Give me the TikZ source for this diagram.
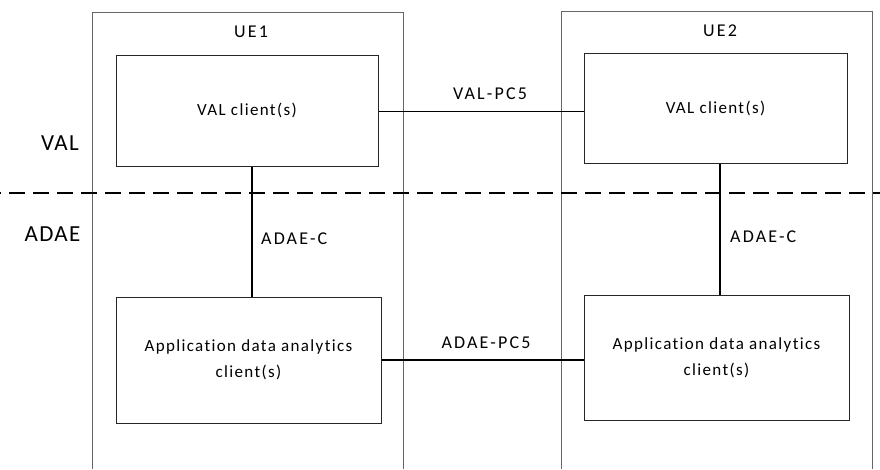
\documentclass[tikz,border=0pt]{standalone}
\usepackage{fontspec}
\setmainfont{Carlito}
\newfontfamily\boxfont[LetterSpace=8,Ligatures=NoCommon]{Carlito}
\newfontfamily\conffont[LetterSpace=12,Ligatures=NoCommon]{Carlito}
\newfontfamily\bigfont[LetterSpace=6,Ligatures=NoCommon]{Carlito}
\begin{document}
\begin{tikzpicture}[x=1pt,y=-1pt,
  frame/.style={draw=black!60,line width=1pt},
  box/.style={draw=black!85,line width=1pt,inner sep=0pt,
    font=\boxfont\fontsize{17}{26}\selectfont,align=center},
  conlbl/.style={font=\conffont\fontsize{18}{22}\selectfont,inner sep=0pt},
  big/.style={font=\bigfont\fontsize{23}{27}\selectfont,inner sep=0pt},
  thin/.style={line width=1pt},
  thick2/.style={line width=2pt}]
\useasboundingbox (0,0) rectangle (880,469);
% outer UE frames (open at bottom)
\draw[frame] (92,469) -- (92,12) -- (403,12) -- (403,469);
\draw[frame] (561,469) -- (561,11) -- (872,11) -- (872,469);
\node[conlbl] (ue1) at (251,32) {UE1};
\node[conlbl] (ue2) at (720,31) {UE2};
% boxes
\node[box,minimum width=262pt,minimum height=111pt] (val1) at (247,110.5) {VAL client(s)};
\node[box,minimum width=263pt,minimum height=110pt] (val2) at (715.5,108) {VAL client(s)};
\node[box,minimum width=265pt,minimum height=126pt] (ad1) at (248.5,360) {Application data analytics\\client(s)};
\node[box,minimum width=265pt,minimum height=125pt] (ad2) at (716.5,357.5) {Application data analytics\\client(s)};
% dashed separator
\coordinate (dl) at (0,193);
\coordinate (dr) at (880,193);
\draw[line width=2pt,dash pattern=on 16pt off 8pt,dash phase=15pt] (dl) -- (dr);
\node[big] (val) at (60,143.5) {VAL};
\node[big] (adae) at (52.5,234.5) {ADAE};
% connectors
\draw[thin] (val1.east |- 0,111) -- (val2.west |- 0,111);
\node[conlbl] (lvalpc5) at (490,94) {VAL-PC5};
\draw[thick2] (ad1.east |- 0,360) -- (ad2.west |- 0,360);
\node[conlbl] (ladaepc5) at (486,343) {ADAE-PC5};
\draw[thick2] (val1.south -| 252,0) -- (ad1.north -| 252,0);
\node[conlbl,anchor=west] (ladaec1) at (261,239) {ADAE-C};
\draw[thick2] (val2.south -| 720,0) -- (ad2.north -| 720,0);
\node[conlbl,anchor=west] (ladaec2) at (730,237) {ADAE-C};
\end{tikzpicture}
\end{document}
